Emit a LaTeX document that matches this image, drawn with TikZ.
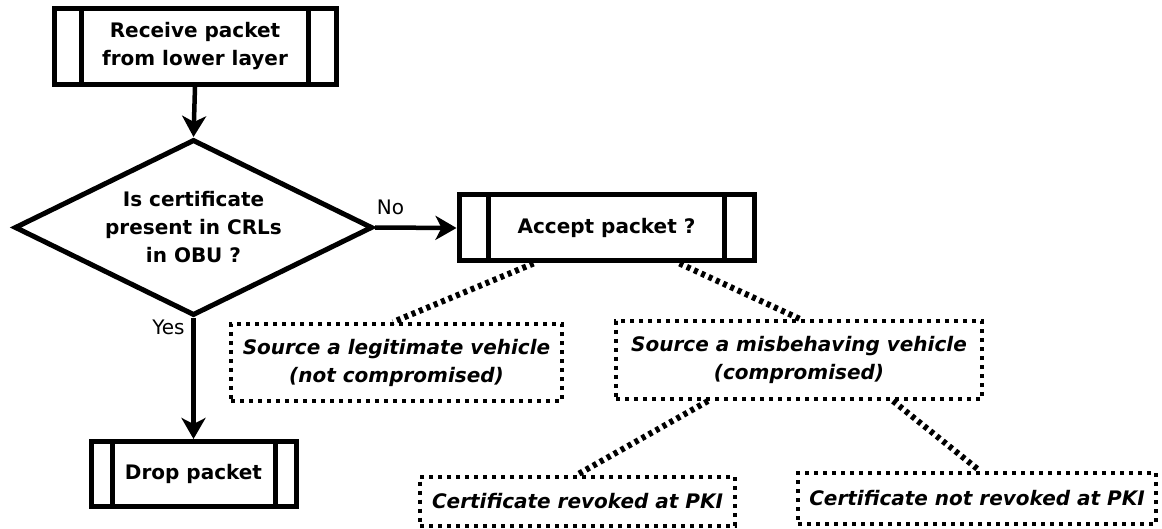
\documentclass[tikz,border=0pt]{standalone}
\usepackage{fontspec}
\setmainfont{DejaVu Sans}
\usetikzlibrary{shapes.geometric,arrows.meta}
\begin{document}
\begin{tikzpicture}[x=1pt,y=-1pt,
  every node/.style={font=\fontsize{20}{28}\selectfont\bfseries, align=center, inner sep=0pt},
  procbox/.style={draw, line width=5pt, rectangle, path picture={
     \draw[line width=5pt]
       ([xshift=#1]path picture bounding box.north west) -- ([xshift=#1]path picture bounding box.south west)
       ([xshift=-#1]path picture bounding box.north east) -- ([xshift=-#1]path picture bounding box.south east);}},
  decision/.style={draw, diamond, line width=5pt, aspect=2},
  dotbox/.style={draw, line width=4pt, dash pattern=on 4pt off 5pt,
     font=\fontsize{20}{28}\selectfont\bfseries\itshape},
  flow/.style={line width=4.5pt, -{Stealth[length=21pt,width=24pt,inset=6pt]}},
  link/.style={line width=6pt, dash pattern=on 4pt off 4pt},
  answer/.style={font=\fontsize{20}{22}\selectfont}]
\useasboundingbox (0,0) rectangle (1162,529);

% main flow
\node[procbox=27.5pt, minimum width=282pt, minimum height=76pt] (recv) at (195,46.5)
  {Receive packet\\from lower layer};
\node[decision, minimum width=358pt, minimum height=176pt] (dec) at (193.5,227.5)
  {Is certificate\\present in CRLs\\in OBU ?};
\node[procbox=29.5pt, minimum width=295pt, minimum height=66pt] (accept) at (606.5,228)
  {Accept packet ?};
\node[procbox=21pt, minimum width=205pt, minimum height=65pt] (drop) at (193.5,474)
  {Drop packet};

% possible sources
\node[dotbox, minimum width=331pt, minimum height=77pt] (legit) at (396.5,362.5)
  {Source a legitimate vehicle\\(not compromised)};
\node[dotbox, minimum width=366pt, minimum height=78pt] (misb) at (799,360)
  {Source a misbehaving vehicle\\(compromised)};
\node[dotbox, minimum width=315pt, minimum height=49pt] (rev) at (577.5,501)
  {Certificate revoked at PKI};
\node[dotbox, minimum width=358pt, minimum height=51pt] (notrev) at (977,498.5)
  {Certificate not revoked at PKI};

% arrows
\draw[flow] (recv.south) -- (dec.north);
\draw[flow] (dec.east) -- node[answer, pos=0.19, yshift=20pt] (no) {No} (accept.west);
\draw[flow] (dec.south) -- node[answer, pos=0.08, xshift=-25pt] (yes) {Yes} (drop.north);

% dotted links
\draw[link] ([xshift=-73pt]accept.south) -- ([xshift=-3.5pt]legit.north);
\draw[link] ([xshift=73pt]accept.south) -- ([xshift=1pt]misb.north);
\draw[link] ([xshift=-91pt]misb.south) -- (rev.north);
\draw[link] ([xshift=94pt]misb.south) -- ([xshift=3pt]notrev.north);
\end{tikzpicture}
\end{document}
